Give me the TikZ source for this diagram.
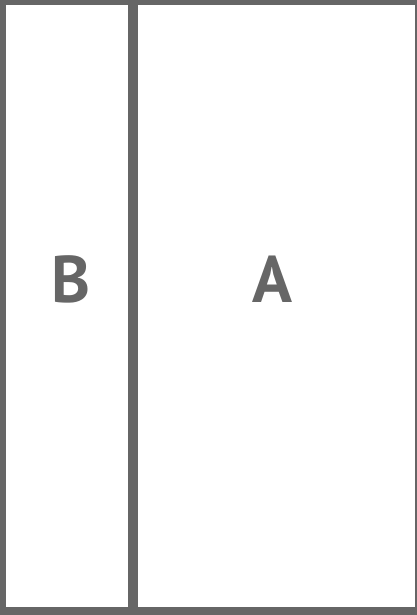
\documentclass[tikz,border=0pt]{standalone}
\usepackage{fontspec}
\setmainfont{PT Sans}
\definecolor{framegray}{RGB}{102,102,102}
\begin{document}
\begin{tikzpicture}[x=1pt,y=1pt,
  panel/.style={draw=none,fill=white,inner sep=0pt,outer sep=0pt},
  letter/.style={anchor=base,inner sep=0pt,text=framegray,font=\fontsize{66}{66}\selectfont\bfseries}]
\useasboundingbox (0,0) rectangle (417,-615);
\fill[framegray] (0,0) rectangle (417,-615);
\node[panel,minimum width=122pt,minimum height=602pt] (boxB) at (67,-306) {};
\node[panel,minimum width=277pt,minimum height=602pt] (boxA) at (276.5,-306) {};
\node[letter] (labB) at (71,-302) {B};
\node[letter] (labA) at (272,-302) {A};
\end{tikzpicture}
\end{document}
